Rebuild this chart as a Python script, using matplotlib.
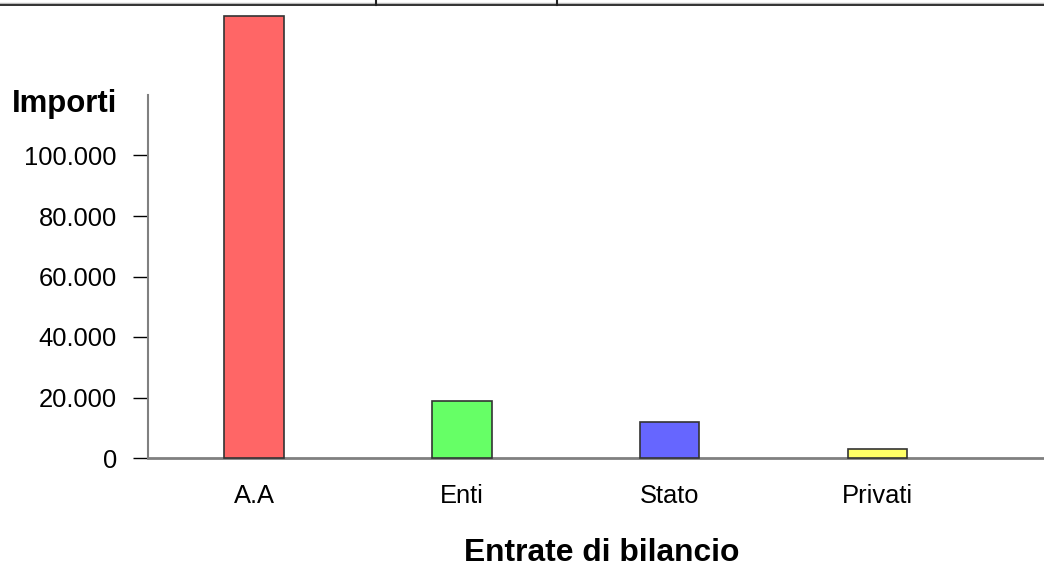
import numpy as np
import matplotlib.pyplot as plt
from matplotlib.lines import Line2D

plt.rcParams['font.family'] = ['Liberation Sans', 'DejaVu Sans']

categories = ['A.A', 'Enti', 'Stato', 'Privati']
importi = [146000, 19000, 12000, 2900]
colors = ['#FF6666', '#66FF66', '#6666FF', '#FFFF66']
yticks = [0, 20000, 40000, 60000, 80000, 100000]
ytick_labels = ['0', '20.000', '40.000', '60.000', '80.000', '100.000']

fig = plt.figure(figsize=(10.44, 5.66), dpi=100)
ax = fig.add_axes([148 / 1044, 108 / 566, 896 / 1044, 363 / 566])

x = np.arange(len(categories))
ax.bar(x, importi, width=0.285, color=colors, edgecolor='#333333',
       linewidth=1.2, clip_on=False, zorder=3)

ax.set_xlim(-0.51, 3.80)
ax.set_ylim(0, 120000)
ax.set_yticks(yticks)
ax.set_yticklabels(ytick_labels)
ax.set_xticks(x)
ax.set_xticklabels(categories)

for s in ['top', 'right']:
    ax.spines[s].set_visible(False)
ax.spines['left'].set_color('#808080')
ax.spines['bottom'].set_color('#808080')
ax.spines['left'].set_linewidth(1.5)
ax.spines['bottom'].set_linewidth(2)

ax.tick_params(axis='y', length=11, width=1, color='black', pad=11.5, labelsize=18.4)
ax.tick_params(axis='x', length=0, pad=18.5, labelsize=18.4)

fig.text(12 / 1044, (566 - 112) / 566, 'Importi', fontsize=22.4, fontweight='bold',
         ha='left', va='baseline')
fig.text(602 / 1044, (566 - 561) / 566, 'Entrate di bilancio', fontsize=22.9,
         fontweight='bold', ha='center', va='baseline')

# bordo in alto (resto della tabella della pagina)
fig.add_artist(Line2D([0, 1], [1 - 3 / 566, 1 - 3 / 566], color='#bbbbbb', lw=1))
fig.add_artist(Line2D([0, 1], [1 - 4.5 / 566, 1 - 4.5 / 566], color='#222222', lw=1.3))
for xv in [376, 557]:
    fig.add_artist(Line2D([xv / 1044, xv / 1044], [1, 1 - 5 / 566], color='#222222', lw=1.5))

plt.savefig('out.png', dpi=100)
